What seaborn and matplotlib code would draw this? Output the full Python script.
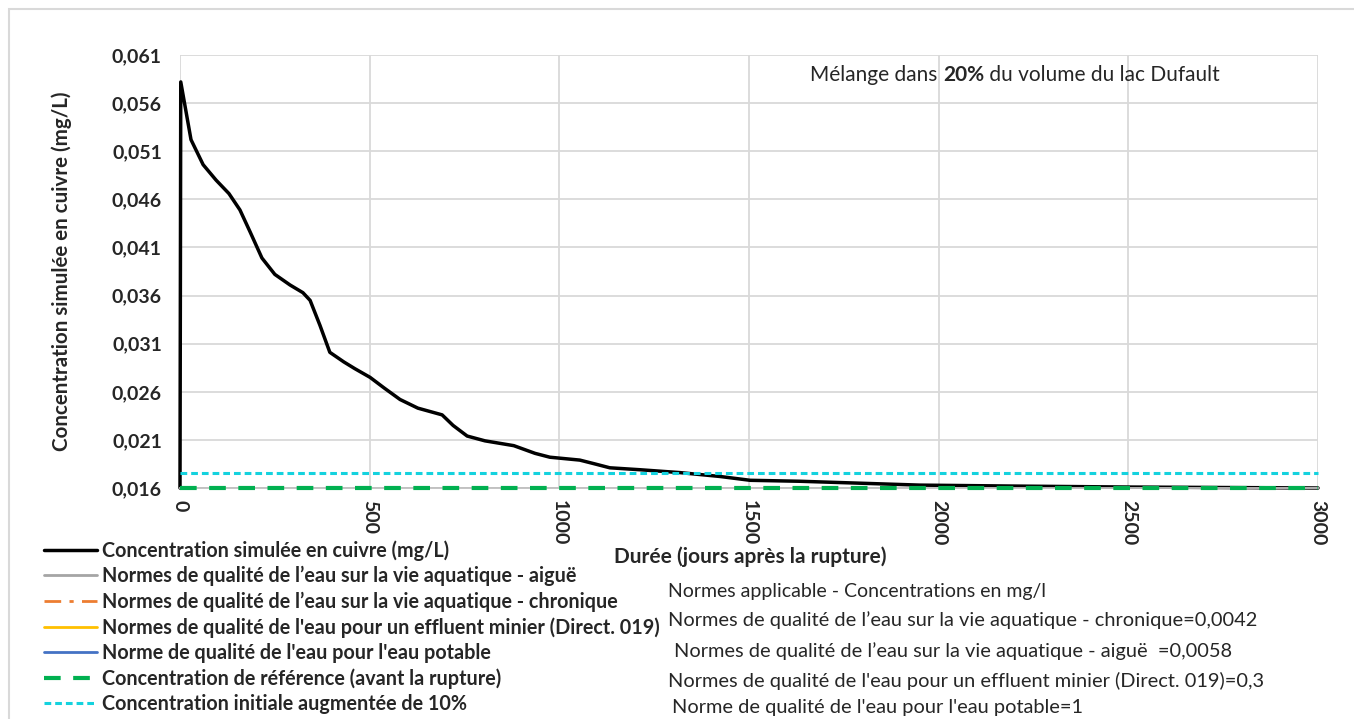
import matplotlib
matplotlib.use("Agg")
import matplotlib.pyplot as plt
import seaborn as sns
import pandas as pd
from matplotlib.patches import Rectangle
from matplotlib.lines import Line2D

# Données
jours = [0, 2, 29, 61, 95, 129, 158, 185, 216, 250, 290, 324, 343, 369, 395, 432,
         461, 501, 538, 580, 627, 691, 720, 757, 804, 880, 936, 975, 1054, 1094,
         1133, 1212, 1318, 1423, 1503, 1634, 1792, 1950, 2200, 2500, 3000]
concentration = [0.016, 0.0582, 0.0522, 0.0496, 0.0480, 0.0466, 0.0449, 0.0426,
                 0.0399, 0.0382, 0.0371, 0.0363, 0.0355, 0.0329, 0.0301, 0.0291,
                 0.0284, 0.0275, 0.0264, 0.0252, 0.0243, 0.0236, 0.0225, 0.0214,
                 0.0209, 0.0204, 0.0196, 0.0192, 0.0189, 0.0185, 0.0181, 0.0179,
                 0.0176, 0.0172, 0.0168, 0.0167, 0.0165, 0.0163, 0.0162, 0.0161,
                 0.0160]

norme_aigue = 0.0058
norme_chronique = 0.0042
norme_effluent = 0.3
norme_potable = 1.0
conc_reference = 0.016
conc_plus_10 = 0.0176

x_debut_fin = [0, 3000]
y_ticks = [0.016, 0.021, 0.026, 0.031, 0.036, 0.041, 0.046, 0.051, 0.056, 0.061]
x_ticks = [0, 500, 1000, 1500, 2000, 2500, 3000]

legende = [
    "Concentration simulée en cuivre (mg/L)",
    "Normes de qualité de l’eau sur la vie aquatique - aiguë",
    "Normes de qualité de l’eau sur la vie aquatique - chronique",
    "Normes de qualité de l'eau pour un effluent minier (Direct. 019)",
    "Norme de qualité de l'eau pour l'eau potable",
    "Concentration de référence (avant la rupture)",
    "Concentration initiale augmentée de 10%",
]
normes_texte = [
    "Normes applicable - Concentrations en mg/l",
    "Normes de qualité de l’eau sur la vie aquatique - chronique=0,0042",
    "Normes de qualité de l’eau sur la vie aquatique - aiguë  =0,0058",
    "Normes de qualité de l'eau pour un effluent minier (Direct. 019)=0,3",
    "Norme de qualité de l'eau pour l'eau potable=1",
]

sns.set_style("white")
plt.rcParams['font.family'] = ['Lato', 'DejaVu Sans']

fig = plt.figure(figsize=(13.54, 7.19), dpi=100)
W, H = 1354, 719
ax = fig.add_axes([180 / W, 1 - 488 / H, (1318 - 180) / W, (488 - 55) / H])

# cadre du graphique
fig.patches.append(Rectangle((9 / W, -0.1), 1.2, 1 - 9 / H + 0.1, transform=fig.transFigure,
                             fill=False, edgecolor="#d9d9d9", linewidth=1.5))

df = pd.DataFrame({"jours": jours, "concentration": concentration})

styles = [
    (norme_aigue, "#a5a5a5", "-", None),
    (norme_chronique, "#ed7d31", (0, (6, 3, 1.5, 3)), None),
    (norme_effluent, "#ffc000", "-", None),
    (norme_potable, "#4472c4", "-", None),
    (conc_reference, "#00b050", (0, (4, 3)), 3),
    (conc_plus_10, "#14d2de", (0, (2.2, 1.3)), 2.2),
]

for val, col, ls, lw in styles:
    sns.lineplot(x=x_debut_fin, y=[val, val], ax=ax, color=col, linestyle=ls,
                 linewidth=lw or 2, legend=False)
    if val in (conc_reference, conc_plus_10):
        ax.lines[-1].set_clip_on(False)
        ax.lines[-1].set_zorder(3)

sns.lineplot(data=df, x="jours", y="concentration", ax=ax, color="black",
             linewidth=2.5, sort=False, legend=False)
ax.lines[-1].set_clip_on(False)
ax.lines[-1].set_zorder(2.5)

ax.set_xlim(0, 3000)
ax.set_ylim(0.016, 0.061)
ax.set_xticks(x_ticks)
ax.set_yticks(y_ticks)
ax.set_xticklabels([str(t) for t in x_ticks], rotation=-90, fontweight="bold", fontsize=14)
ax.set_yticklabels([f"{t:.3f}".replace(".", ",") for t in y_ticks], fontweight="bold", fontsize=14)
ax.tick_params(axis="x", length=0, pad=9)
ax.tick_params(axis="y", length=0, pad=13)
ax.grid(True, color="#d9d9d9", linewidth=1.3)
ax.set_axisbelow(True)
for s in ["top", "right", "left"]:
    ax.spines[s].set_visible(False)
ax.spines["bottom"].set_color("#bfbfbf")
ax.spines["bottom"].set_linewidth(1.3)

ax.set_ylabel("Concentration simulée en cuivre (mg/L)", fontweight="bold", fontsize=14.8)
ax.yaxis.set_label_coords((72 - 180) / (1318 - 180), 0.5)
ax.set_xlabel("")
fig.text(750 / W, 1 - 557 / H, "Durée (jours après la rupture)", ha="center", va="center",
         fontweight="bold", fontsize=15)

# titre dans le graphique
t1 = ax.text(810 / W, 1 - 75 / H, "Mélange dans ", transform=fig.transFigure, fontsize=15,
             va="center", ha="left")
t2 = ax.annotate("20%", xycoords=t1, xy=(1, 0), va="bottom", ha="left", fontsize=15,
                 fontweight="bold")
ax.annotate(" du volume du lac Dufault", xycoords=t2, xy=(1, 0), va="bottom", ha="left",
            fontsize=15)

# légende
handles = [Line2D([], [], color="black", linewidth=2.5)]
for val, col, ls, lw in styles:
    handles.append(Line2D([], [], color=col, linestyle=ls, linewidth=lw or 2))
fig.legend(handles, legende, loc="upper left", bbox_to_anchor=(44 / W, 1 - 540 / H),
           frameon=False, prop={"weight": "bold", "size": 14.2}, handlelength=2.7,
           handletextpad=0.25, labelspacing=0.27, borderpad=0, borderaxespad=0)

# bloc des normes
pos = [(668, 591), (668, 620), (674, 651), (668, 681), (672, 707)]
for (px, py), txt in zip(pos, normes_texte):
    fs = 14 if py == 591 else 14.4
    fig.text(px / W, 1 - py / H, txt, ha="left", va="center", fontsize=fs)

fig.savefig("out.png", dpi=100)
